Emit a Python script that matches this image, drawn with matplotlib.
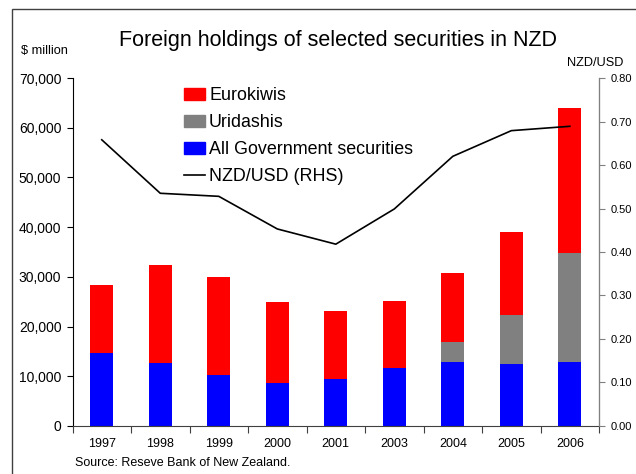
import numpy as np
import matplotlib.pyplot as plt
from matplotlib.patches import Rectangle
from matplotlib.lines import Line2D

plt.rcParams["font.family"] = ["Liberation Sans", "DejaVu Sans"]

years = ["1997", "1998", "1999", "2000", "2001", "2003", "2004", "2005", "2006"]
govt = [14700, 12700, 10300, 8600, 9400, 11700, 12900, 12400, 12800]
uridashis = [0, 0, 0, 0, 0, 0, 4000, 9900, 21900]
eurokiwis = [13700, 19700, 19700, 16300, 13700, 13500, 13900, 16700, 29300]
nzdusd = [0.658, 0.535, 0.528, 0.453, 0.418, 0.499, 0.620, 0.679, 0.689]

fig = plt.figure(figsize=(6.36, 4.74), dpi=100)
ax = fig.add_axes([0.114, 0.1013, 0.828, 0.7341])
ax2 = ax.twinx()

x = np.arange(len(years))
w = 0.39
govt = np.array(govt)
uri = np.array(uridashis)
euro = np.array(eurokiwis)
ax.bar(x, govt, w, color="#0000ff", zorder=2)
ax.bar(x, uri, w, bottom=govt, color="#808080", zorder=2)
ax.bar(x, euro, w, bottom=govt + uri, color="#ff0000", zorder=2)
ax2.plot(x, nzdusd, color="black", linewidth=1.2)

ax.set_xlim(-0.5, len(years) - 0.5)
ax.set_ylim(0, 70000)
ax.set_yticks(np.arange(0, 70001, 10000))
ax.set_yticklabels([f"{v:,}" for v in range(0, 70001, 10000)], fontsize=10)
ax.set_xticks(np.arange(-0.5, len(years), 1))
ax.set_xticklabels([])
ax.set_xticks(x, minor=True)
ax.set_xticklabels(years, minor=True, fontsize=9)
ax.tick_params(axis="x", which="minor", length=0, pad=9)
ax.tick_params(axis="x", which="major", direction="out", length=5, color="#404040")
ax.tick_params(axis="y", direction="out", length=4, pad=4)

ax2.set_ylim(0, 0.8)
ax2.set_yticks(np.arange(0, 0.81, 0.1))
ax2.set_yticklabels([f"{v:.2f}" for v in np.arange(0, 0.81, 0.1)], fontsize=8)
ax2.tick_params(axis="y", direction="out", length=4, color="#808080", pad=4)

for a in (ax, ax2):
    a.spines["top"].set_visible(False)
ax.spines["bottom"].set_color("#404040")
ax2.spines["bottom"].set_visible(False)
ax2.spines["left"].set_visible(False)
ax2.spines["right"].set_color("#808080")

handles = [
    Rectangle((0, 0), 1, 1, color="#ff0000"),
    Rectangle((0, 0), 1, 1, color="#808080"),
    Rectangle((0, 0), 1, 1, color="#0000ff"),
    Line2D([0], [0], color="black", linewidth=1.2),
]
labels = ["Eurokiwis", "Uridashis", "All Government securities", "NZD/USD (RHS)"]
ax.legend(handles, labels, loc="upper left", bbox_to_anchor=(0.182, 1.02),
          frameon=False, fontsize=12.9, handlelength=1.12, handleheight=0.67,
          handletextpad=0.25, labelspacing=0.55)

fig.text(0.531, 0.915, "Foreign holdings of selected securities in NZD",
         ha="center", va="center", fontsize=15.5)
fig.text(0.033, 0.893, "$ million", fontsize=9.2, va="center")
fig.text(0.891, 0.868, "NZD/USD", fontsize=9.2, va="center")
fig.text(0.118, 0.023, "Source: Reseve Bank of New Zealand.", fontsize=9, va="center")

fig.patches.append(Rectangle((11.5 / 636, -0.1), 1.2, (474 - 9.5) / 474 + 0.1,
                             transform=fig.transFigure, fill=False,
                             edgecolor="#404040", linewidth=1.0))

fig.savefig("out.png", dpi=100)
